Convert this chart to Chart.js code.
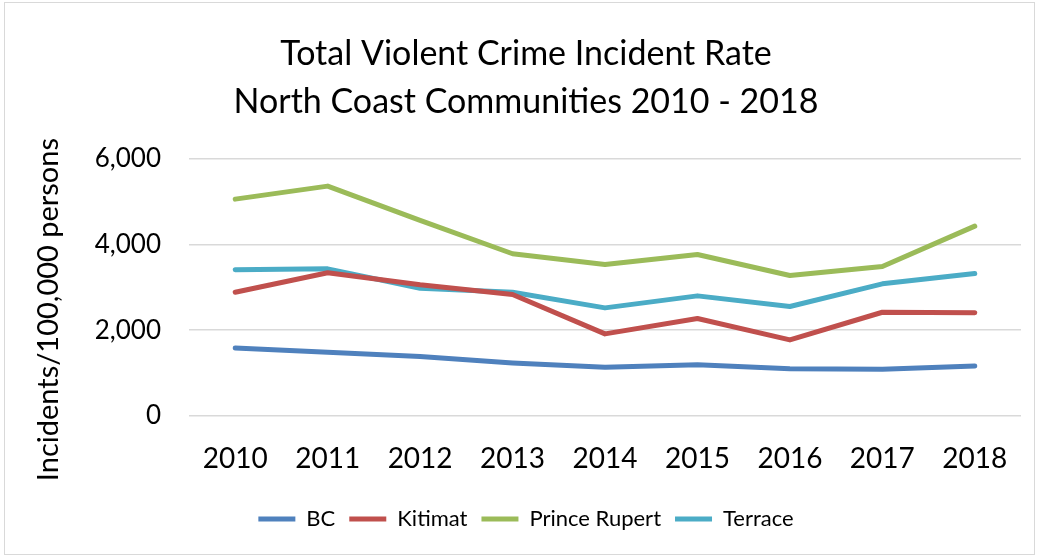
<!DOCTYPE html>
<html>
<head>
<meta charset="utf-8">
<script src="https://cdn.jsdelivr.net/npm/chart.js@4"></script>
<style>
    html, body { margin: 0; padding: 0; background: #fff; }
    #wrap { position: absolute; left: 0; top: 0; width: 1039px; height: 557px; }
    #frame { position: absolute; left: 4px; top: 2px; width: 1029px; height: 551px; border: 1px solid #d9d9d9; pointer-events: none; }
</style>
</head>
<body>
<div id="wrap"><canvas id="crimeChart" width="1039" height="557"></canvas></div>
<div id="frame"></div>
<script>
const years = ['2010', '2011', '2012', '2013', '2014', '2015', '2016', '2017', '2018'];
const bc = [1587, 1485, 1384, 1237, 1134, 1197, 1104, 1088, 1167];
const kitimat = [2885, 3337, 3057, 2831, 1914, 2271, 1774, 2418, 2404];
const princeRupert = [5055, 5358, 4558, 3781, 3531, 3764, 3274, 3484, 4425];
const terrace = [3407, 3430, 2978, 2885, 2520, 2800, 2551, 3080, 3321];

const font = 'Lato, "Open Sans", sans-serif';

function series(label, data, color) {
    return {
        label: label,
        data: data,
        borderColor: color,
        backgroundColor: color,
        borderWidth: 5,
        borderCapStyle: 'round',
        borderJoinStyle: 'round',
        pointRadius: 0,
        pointStyle: 'line',
        tension: 0,
        fill: false
    };
}

window.onload = function() {
    const ctx = document.getElementById('crimeChart').getContext('2d');
    new Chart(ctx, {
        type: 'line',
        data: {
            labels: years,
            datasets: [
                series('BC', bc, '#4f81bd'),
                series('Kitimat', kitimat, '#c0504d'),
                series('Prince Rupert', princeRupert, '#9bbb59'),
                series('Terrace', terrace, '#4bacc6')
            ]
        },
        options: {
            responsive: false,
            animation: false,
            layout: { padding: { left: 31, right: 18, top: 0, bottom: 17 } },
            plugins: {
                title: {
                    display: true,
                    text: ['Total Violent Crime Incident Rate', 'North Coast Communities 2010 - 2018'],
                    color: '#000',
                    font: { family: font, size: 34, weight: 'normal', lineHeight: 1.42 },
                    padding: { top: 30, bottom: 32 }
                },
                legend: {
                    position: 'bottom',
                    labels: {
                        color: '#000',
                        font: { family: font, size: 22 },
                        usePointStyle: true,
                        pointStyleWidth: 37,
                        boxHeight: 5,
                        padding: 14
                    }
                },
                tooltip: { enabled: false }
            },
            scales: {
                x: {
                    offset: true,
                    grid: { display: false, drawTicks: false },
                    border: { display: false },
                    ticks: { color: '#000', font: { family: font, size: 28 }, padding: 26 },
                    afterFit: scale => { scale.height = 78; }
                },
                y: {
                    min: 0,
                    max: 6000,
                    grid: { color: '#d9d9d9', lineWidth: 1.5, drawTicks: false },
                    border: { display: false },
                    ticks: {
                        stepSize: 2000,
                        color: '#000',
                        padding: 28,
                        font: { family: font, size: 26 },
                        callback: v => v.toLocaleString('en-US')
                    },
                    title: {
                        display: true,
                        // trailing spaces push the centred title down like the original
                        text: 'Incidents/100,000 persons      ',
                        color: '#000',
                        font: { family: font, size: 29 },
                        padding: { top: 0, bottom: 0 }
                    },
                    afterFit: scale => { scale.width = 158; }
                }
            }
        }
    });
};
</script>
</body>
</html>
